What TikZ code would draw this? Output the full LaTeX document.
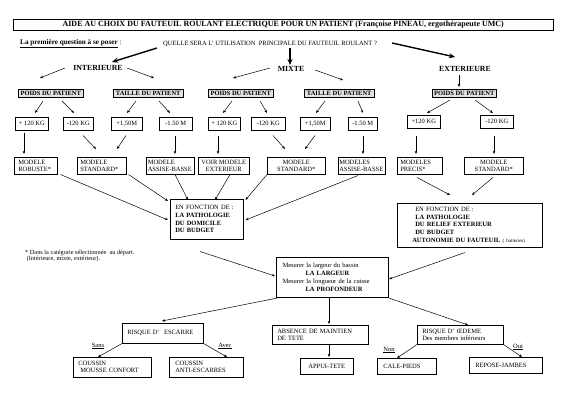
\documentclass[tikz,border=0pt]{standalone}
\usepackage{fontspec}
\setmainfont{Liberation Serif}
\usetikzlibrary{arrows.meta,calc}
\newcommand\fn{\fontsize{6.5}{7}\selectfont}
\newcommand\fnb{\fontsize{6.5}{7.6}\selectfont}
\begin{document}
\begin{tikzpicture}[x=1pt,y=-1pt,
  bx/.style={draw, line width=0.5pt, inner xsep=3pt, inner ysep=0pt, font=\fn, anchor=north west, align=left},
  bc/.style={bx, align=center},
  gbx/.style={bx, fill=gray!22, font=\fontsize{6.5}{7}\selectfont\bfseries, align=center, inner xsep=0pt},
  hd/.style={font=\fontsize{7.8}{9}\selectfont\bfseries, inner sep=0.5pt},
  lab/.style={font=\fn, inner sep=0.5pt},
  arr/.style={-{Stealth[length=3.2pt,width=2.6pt]}, line width=0.5pt},
  tarr/.style={-{Stealth[length=6pt,width=5pt]}, line width=1.4pt}]
\fill[white] (0,0) rectangle (566,400);
\useasboundingbox (0,0) rectangle (566,400);

% title and question
\node[bc, minimum width=540pt, minimum height=11pt, font=\fontsize{8}{9}\selectfont\bfseries] (title) at (13,19) {AIDE AU CHOIX DU FAUTEUIL ROULANT ELECTRIQUE POUR UN PATIENT (Françoise PINEAU, ergothérapeute UMC)};
\node[anchor=west, inner sep=0pt, font=\fontsize{7.2}{8}\selectfont] (q1) at (20,44) {\textbf{\underline{La première question à se poser}} :};
\node[anchor=west, inner sep=0pt, font=\fn] (q2) at (163,44) {QUELLE SERA L' UTILISATION \ PRINCIPALE DU FAUTEUIL ROULANT ?};

% headings
\node[hd] (intT) at (98,68) {INTERIEURE};
\node[hd] (mixT) at (291,69) {MIXTE};
\node[hd] (extT) at (465,69) {EXTERIEURE};

% grey boxes
\node[gbx, minimum width=65pt, minimum height=7.5pt] (pI) at (18,89) {POIDS DU PATIENT};
\node[gbx, minimum width=70pt, minimum height=7.5pt] (tI) at (113,89) {TAILLE DU PATIENT};
\node[gbx, minimum width=65pt, minimum height=7.5pt] (pM) at (208,89) {POIDS DU PATIENT};
\node[gbx, minimum width=70pt, minimum height=7.5pt] (tM) at (304,89) {TAILLE DU PATIENT};
\node[gbx, minimum width=64pt, minimum height=7.5pt] (pE) at (432,89) {POIDS DU PATIENT};

% weight / size boxes
\node[bc, minimum width=33pt, minimum height=13pt] (kI1) at (15,117) {+ 120 KG};
\node[bc, minimum width=30pt, minimum height=13pt] (kI2) at (63,117) {-120 KG};
\node[bc, minimum width=31pt, minimum height=13pt] (kI3) at (111,117) {+1,50M};
\node[bc, minimum width=33pt, minimum height=13pt] (kI4) at (159,117) {-1.50 M};
\node[bc, minimum width=32pt, minimum height=13pt] (kM1) at (208,117) {+ 120 KG};
\node[bc, minimum width=34pt, minimum height=13pt] (kM2) at (251,117) {-120 KG};
\node[bc, minimum width=30pt, minimum height=13pt] (kM3) at (300,117) {+1,50M};
\node[bc, minimum width=29pt, minimum height=13pt] (kM4) at (348,117) {-1.50 M};
\node[bc, minimum width=33pt, minimum height=13pt] (kE1) at (407,115) {+120 KG};
\node[bc, minimum width=33pt, minimum height=13pt] (kE2) at (480,115) {-120 KG};

% model boxes
\node[bx, inner xsep=4pt, minimum width=43pt, minimum height=17pt, text width=35pt] (mI1) at (14,157) {MODELE\\ROBUSTE*};
\node[bx, minimum width=49pt, minimum height=17pt, text width=43pt] (mI2) at (77,157) {MODELE\\STANDARD*};
\node[bx, inner xsep=1.5pt, minimum width=48pt, minimum height=17pt, text width=45pt] (mI3) at (146,157) {MODELE\\\mbox{ASSISE-BASSE}};
\node[bc, minimum width=51pt, minimum height=17pt] (mM1) at (198,157) {VOIR MODELE\\EXTERIEUR};
\node[bc, minimum width=58pt, minimum height=17pt] (mM2) at (267,157) {MODELE\\STANDARD*};
\node[bx, inner xsep=1pt, minimum width=47pt, minimum height=17pt, text width=45pt] (mM3) at (338,157) {MODELES\\\mbox{ASSISE-BASSE}};
\node[bx, minimum width=45pt, minimum height=17pt, text width=39pt] (mE1) at (397,157) {MODELES\\PRECIS*};
\node[bc, minimum width=59pt, minimum height=17pt] (mE2) at (464,157) {MODELE\\STANDARD*};

% en fonction de
\node[bx, inner xsep=5pt, minimum width=73pt, minimum height=40pt, text width=63pt, font=\fnb] (enfI) at (170,199) {EN FONCTION DE :\\\textbf{LA PATHOLOGIE}\\\textbf{DU DOMICILE}\\\textbf{DU BUDGET}};
\node[bx, inner xsep=0pt, minimum width=145pt, minimum height=44pt, text width=145pt, font=\fnb] (enfE) at (397,203) {\hspace*{18pt}EN FONCTION DE :\\\hspace*{18pt}\textbf{LA PATHOLOGIE}\\\hspace*{18pt}\textbf{DU RELIEF EXTERIEUR}\\\hspace*{18pt}\textbf{DU BUDGET}\\\hspace*{15pt}\textbf{AUTONOMIE DU FAUTEUIL} {\fontsize{5}{6}\selectfont( batteries)}};

% footnote
\node[anchor=north west, inner sep=0pt, align=left, font=\fontsize{6.3}{6}\selectfont] (foot) at (25,250) {* Dans la catégorie sélectionnée \ au départ.\\\ (Intérieure, mixte, extérieur).};

% measure box
\node[bx, line width=1.1pt, inner xsep=6pt, minimum width=112pt, minimum height=40pt, text width=100pt, font=\fontsize{6.5}{8}\selectfont] (mes) at (276,257) {Mesurer la largeur du bassin\\\hspace*{23pt}\textbf{LA LARGEUR}\\Mesurer la longueur de la cuisse\\\hspace*{23pt}\textbf{LA PROFONDEUR}};

% lower boxes
\node[bx, inner xsep=5pt, minimum width=81pt, minimum height=20pt, text width=71pt] (re) at (122,323) {RISQUE D' \ ESCARRE};
\node[bx, inner xsep=5pt, minimum width=96pt, minimum height=19pt, text width=86pt] (ab) at (272,325) {ABSENCE DE MAINTIEN\\DE TETE};
\node[bx, inner xsep=5pt, minimum width=86pt, minimum height=19pt, text width=76pt] (ro) at (417,325) {RISQUE D' ŒDEME\\Des membres inférieurs};
\node[bx, inner xsep=5pt, minimum width=78pt, minimum height=20pt, text width=68pt] (c1) at (73,357) {COUSSIN\\\ MOUSSE CONFORT};
\node[bx, inner xsep=6pt, minimum width=74pt, minimum height=20pt, text width=62pt] (c2) at (169,357) {COUSSIN\\ANTI-ESCARRES};
\node[bc, minimum width=53pt, minimum height=16pt] (ap) at (300,358) {APPUI-TETE};
\node[bx, inner xsep=6pt, minimum width=59pt, minimum height=16pt, text width=47pt] (cp) at (377,358) {CALE-PIEDS};
\node[bx, inner xsep=6pt, minimum width=73pt, minimum height=16pt, text width=61pt] (rj) at (469,357) {REPOSE-JAMBES};

% labels
\node[lab] (lsans) at (98,346) {\underline{Sans}};
\node[lab] (lavec) at (225,346) {\underline{Avec}};
\node[lab] (lnon) at (389,350) {\underline{Non}};
\node[lab] (loui) at (518,347) {\underline{Oui}};

% thick arrows from the question
\draw[tarr] ($(q2.west)+(-6,4)$) -- ($(intT.center)+(14,-6)$);
\draw[tarr] ($(q2.west)+(127,4)$) -- ($(mixT.center)+(-1,-4)$);
\draw[tarr] ($(q2.west)+(229,-1)$) -- ($(extT.center)+(-10,-12)$);

% heading arrows
\draw[arr] ($(intT.center)+(-33,0)$) -- ($(pI.north west)+(22,-11)$);
\draw[arr] ($(intT.center)+(29,0)$) -- ($(tI.north west)+(41,-11)$);
\draw[arr] ($(mixT.center)+(-21,-1)$) -- ($(pM.north west)+(25,-11)$);
\draw[arr] ($(mixT.center)+(24,1)$) -- ($(tM.north west)+(39,-9)$);
\draw[arr] ($(extT.center)+(-6,6)$) -- ($(pE.north west)+(27,-2)$);

% grey box arrows
\draw[arr] ($(pI.north west)+(25,12)$) -- ($(kI1.north west)+(20,-4)$);
\draw[arr] ($(pI.north west)+(44,12)$) -- ($(kI2.north west)+(11,-4)$);
\draw[arr] ($(tI.north west)+(23,12)$) -- ($(kI3.north west)+(16,-4)$);
\draw[arr] ($(tI.north west)+(46,12)$) -- ($(kI4.north west)+(11,-4)$);
\draw[arr] ($(pM.north west)+(24,12)$) -- ($(kM1.north west)+(15,-4)$);
\draw[arr] ($(pM.north west)+(52,12)$) -- ($(kM2.north west)+(16,-4)$);
\draw[arr] ($(tM.north west)+(21,12)$) -- ($(kM3.north west)+(16,-4)$);
\draw[arr] ($(tM.north west)+(54,12)$) -- ($(kM4.north west)+(15,-4)$);
\draw[arr] ($(pE.north west)+(18,11)$) -- ($(kE1.north west)+(20,-2)$);
\draw[arr] ($(pE.north west)+(43,11)$) -- ($(kE2.north west)+(13,-2)$);

% weight/size to models
\draw[arr] ($(kI1.south west)+(9,2)$) -- ($(mI1.north west)+(10,-3)$);
\draw[arr] ($(kI2.south west)+(20,5)$) -- ($(mI2.north west)+(19,-8)$);
\draw[arr] ($(kI3.south west)+(15,5)$) -- ($(mI2.north west)+(40,-8)$);
\draw[arr] ($(kI4.south west)+(16,5)$) -- ($(mI3.north west)+(29,-3)$);
\draw[arr] ($(kM1.south west)+(10,5)$) -- ($(mM1.north west)+(20,-3)$);
\draw[arr] ($(kM2.south west)+(22,5)$) -- ($(mM2.north west)+(18,-8)$);
\draw[arr] ($(kM3.south west)+(15,5)$) -- ($(mM2.north west)+(38,-8)$);
\draw[arr] ($(kM4.south west)+(15,5)$) -- ($(mM3.north west)+(25,-3)$);
\draw[arr] ($(kE1.south west)+(9,7)$) -- ($(mE1.north west)+(19,-3)$);
\draw[arr] ($(kE2.south west)+(14,7)$) -- ($(mE2.north west)+(30,-3)$);

% models to "en fonction de"
\draw[arr] ($(mI1.south east)+(3,0)$) -- ($(enfI.north west)+(-2,21)$);
\draw[arr] ($(mI2.south east)+(2,0)$) -- ($(enfI.north west)+(-2,2)$);
\draw[arr] ($(mI3.south west)+(29,0)$) -- ($(enfI.north west)+(18,1)$);
\draw[arr] ($(mM1.south west)+(32,0)$) -- ($(enfI.north west)+(45,1)$);
\draw[arr] (mM2.south west) -- ($(enfI.north east)+(2,1)$);
\draw[arr] ($(mM3.south west)+(20,1)$) -- ($(enfI.north east)+(2,21)$);
\draw[arr] ($(mE1.south west)+(20,3)$) -- ($(enfE.north west)+(53,-8)$);
\draw[arr] ($(mE2.south west)+(29,3)$) -- ($(enfE.north west)+(75,-8)$);

% to measure box
\draw[arr] ($(enfI.south west)+(30,12)$) -- ($(mes.north west)+(-1,19)$);
\draw[arr] ($(enfE.south west)+(68,5)$) -- ($(mes.north east)+(0,22)$);

% from measure box
\draw[arr] ($(mes.south west)+(1,0)$) -- ($(re.north west)+(40,-2)$);
\draw[arr] ($(mes.south west)+(53,0)$) -- ($(ab.north west)+(57,-1)$);
\draw[arr] ($(ab.south west)+(57,0)$) -- ($(ap.north west)+(29,-1)$);
\draw[arr] (mes.south east) -- ($(ro.north west)+(51,0)$);
\draw[arr] (re.south west) -- ($(c1.north west)+(25,0)$);
\draw[arr] (re.south east) -- ($(c2.north west)+(58,0)$);
\draw[arr] (ro.south west) -- ($(cp.north west)+(20,0)$);
\draw[arr] (ro.south east) -- ($(rj.north west)+(53,0)$);
\end{tikzpicture}
\end{document}
